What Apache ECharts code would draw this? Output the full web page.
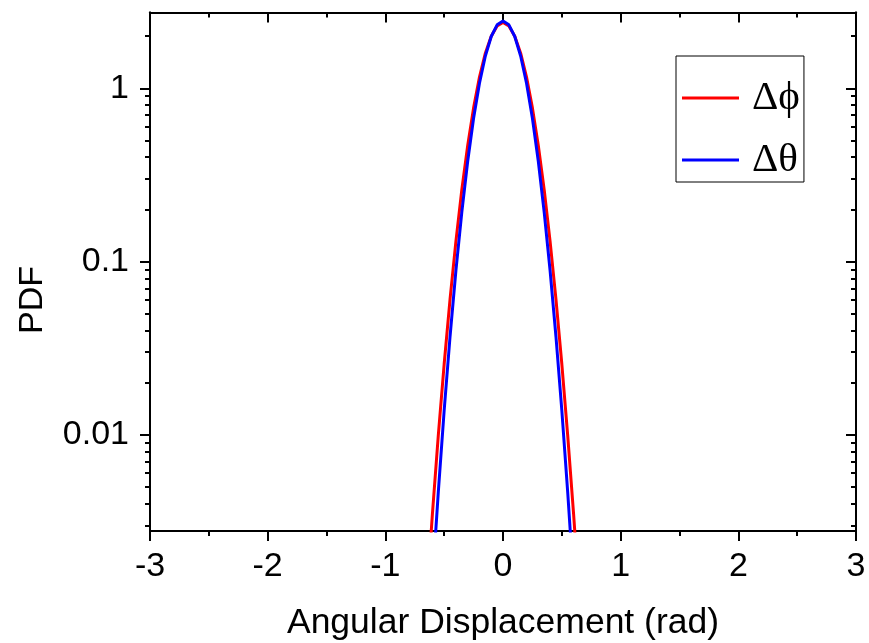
<!DOCTYPE html>
<html>
<head>
<meta charset="utf-8">
<script src="https://cdn.jsdelivr.net/npm/echarts@6/dist/echarts.min.js"></script>
<style>html,body{margin:0;padding:0;background:#fff;}#c{width:869px;height:643px;}</style>
</head>
<body>
<div id="c"></div>
<script>
// Data
const xValues = [-0.65,-0.6,-0.55,-0.5,-0.45,-0.4,-0.35,-0.3,-0.25,-0.2,-0.15,-0.1,-0.05,0,0.05,0.1,0.15,0.2,0.25,0.3,0.35,0.4,0.45,0.5,0.55,0.6,0.65];
const dPhi = [0.00112,0.00348,0.00988,0.0256,0.0607,0.131,0.260,0.468,0.771,1.161,1.595,2.001,2.293,2.40,2.293,2.001,1.595,1.161,0.771,0.468,0.260,0.131,0.0607,0.0256,0.00988,0.00348,0.00112];
const dTheta = [0.00037,0.00141,0.00464,0.0138,0.0369,0.0889,0.193,0.379,0.671,1.069,1.537,1.991,2.326,2.45,2.326,1.991,1.537,1.069,0.671,0.379,0.193,0.0889,0.0369,0.0138,0.00464,0.00141,0.00037];
const seriesNames = ['\u0394\u03d5', '\u0394\u03b8'];
const xTicks = [-3,-2,-1,0,1,2,3];
const yMajorTicks = [0.01, 0.1, 1];
const yMinorTicks = [0.003,0.004,0.005,0.006,0.007,0.008,0.009,0.02,0.03,0.04,0.05,0.06,0.07,0.08,0.09,0.2,0.3,0.4,0.5,0.6,0.7,0.8,0.9,2];
const yMin = 0.00278, yMax = 2.74;

const FONT = 'Liberation Sans, Arial, sans-serif';
const chart = echarts.init(document.getElementById('c'), null, {renderer: 'canvas'});
const lineStyleAxis = {color: '#000', width: 2};
function yAxis(pos, inside, values, len, labels) {
  return {
    type: 'log', logBase: 10, position: pos, min: yMin, max: yMax,
    axisLine: {show: true, onZero: false, lineStyle: lineStyleAxis},
    axisTick: {show: true, inside: inside, length: len, customValues: values, lineStyle: {color: '#000', width: 2}},
    axisLabel: labels ? {show: true, customValues: values, fontSize: 34, fontFamily: FONT, color: '#000', margin: 21, formatter: v => String(+v.toPrecision(3))} : {show: false},
    splitLine: {show: false}, minorTick: {show: false}
  };
}
chart.setOption({
  animation: false,
  grid: {left: 150, right: 13, top: 12.5, bottom: 112, containLabel: false, outerBoundsMode: 'none'},
  xAxis: [
    {type: 'value', position: 'bottom', min: -3, max: 3, interval: 1,
     axisLine: {onZero: false, lineStyle: lineStyleAxis},
     axisTick: {inside: false, length: 10, lineStyle: {color: '#000', width: 2}},
     minorTick: {show: true, splitNumber: 2, length: 5, lineStyle: {color: '#000', width: 2}},
     axisLabel: {fontSize: 34, fontFamily: FONT, color: '#000', margin: 19},
     splitLine: {show: false},
     name: 'Angular Displacement (rad)', nameLocation: 'middle', nameGap: 74,
     nameTextStyle: {fontSize: 35.5, fontFamily: FONT, color: '#000'}},
    {type: 'value', position: 'top', min: -3, max: 3, interval: 1,
     axisLine: {onZero: false, lineStyle: lineStyleAxis},
     axisTick: {inside: true, length: 10, lineStyle: {color: '#000', width: 2}},
     minorTick: {show: true, splitNumber: 2, length: 5, lineStyle: {color: '#000', width: 2}},
     axisLabel: {show: false}, splitLine: {show: false}}
  ],
  yAxis: [
    yAxis('left', false, yMajorTicks, 10, true),
    yAxis('left', false, yMinorTicks, 5, false),
    yAxis('right', true, yMajorTicks, 10, false),
    yAxis('right', true, yMinorTicks, 5, false)
  ],
  legend: {
    orient: 'vertical', left: 676, top: 56,
    data: seriesNames,
    itemWidth: 57, itemHeight: 3, icon: 'rect', itemGap: 20,
    padding: [21, 4, 1, 6],
    borderColor: '#000', borderWidth: 1,
    textStyle: {fontSize: 41, fontFamily: 'Liberation Serif, Times New Roman, serif', color: '#000', lineHeight: 42, padding: [0, 0, 0, 8]}
  },
  graphic: [{
    type: 'text', x: 33, y: 300, rotation: Math.PI / 2,
    style: {text: 'PDF', fontSize: 34, fontFamily: FONT, fill: '#000', align: 'center', verticalAlign: 'middle'}
  }],
  series: [
    {name: seriesNames[0], type: 'line', xAxisIndex: 0, yAxisIndex: 0, showSymbol: false, symbol: 'none',
     data: xValues.map((x, i) => [x, dPhi[i]]), lineStyle: {color: '#ff0000', width: 3}, itemStyle: {color: '#ff0000'}, clip: true},
    {name: seriesNames[1], type: 'line', xAxisIndex: 0, yAxisIndex: 0, showSymbol: false, symbol: 'none',
     data: xValues.map((x, i) => [x, dTheta[i]]), lineStyle: {color: '#0000ff', width: 3}, itemStyle: {color: '#0000ff'}, clip: true}
  ]
});
</script>
</body>
</html>
